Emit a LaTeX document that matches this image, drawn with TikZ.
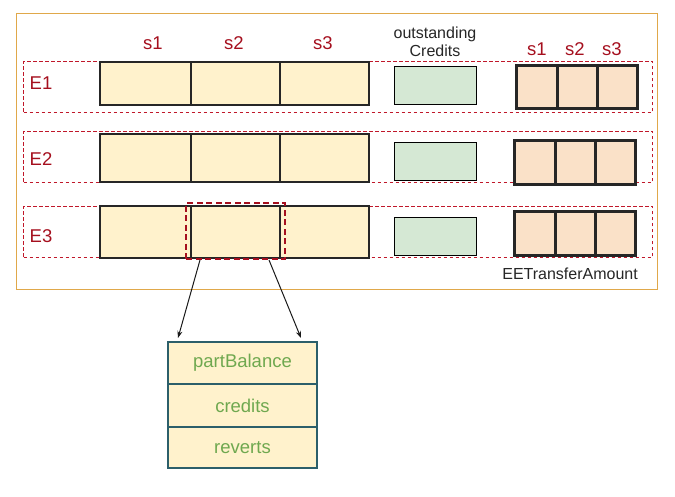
\documentclass[tikz,border=0pt]{standalone}
\usepackage{fontspec}
\setmainfont{Liberation Sans}
\usetikzlibrary{arrows.meta}
\definecolor{dred}{HTML}{A50F1E}
\definecolor{rowred}{HTML}{C0182A}
\definecolor{outerc}{HTML}{E0A84A}
\definecolor{yfill}{HTML}{FFF2CC}
\definecolor{gfill}{HTML}{D5E8D4}
\definecolor{pfill}{HTML}{FAE1C8}
\definecolor{teal}{HTML}{2C5F6A}
\definecolor{gtext}{HTML}{6FA84F}
\begin{document}
\begin{tikzpicture}[x=1pt,y=-1pt,
  ybox/.style={draw=black!85,line width=2.2pt,fill=yfill,anchor=north west,inner sep=0pt},
  gbox/.style={draw=black,line width=1.1pt,fill=gfill,anchor=north west,inner sep=0pt},
  pbox/.style={draw=black!85,line width=2.6pt,fill=pfill,anchor=north west,inner sep=0pt},
  rowbox/.style={draw=rowred,line width=1pt,anchor=north west,inner sep=0pt,dash pattern=on 3.5pt off 2.5pt},
  hlbox/.style={draw=dred,line width=2.4pt,dash pattern=on 6pt off 3.5pt,anchor=north west,inner sep=0pt},
  stbox/.style={draw=teal,line width=2pt,fill=yfill,anchor=north west,inner sep=0pt,minimum width=149pt,minimum height=42pt,font=\fontsize{18.5}{20}\selectfont,text=gtext},
  rlab/.style={text=dred,font=\fontsize{18.5}{20}\selectfont,inner sep=0pt},
  blab/.style={text=black!85,font=\fontsize{16}{18}\selectfont,inner sep=0pt,align=center},
  arr/.style={-{Stealth[length=7pt,width=5pt]},line width=1pt,draw=black!90}]
\useasboundingbox (0,0) rectangle (675,497);
\node[draw=outerc,line width=1.2pt,anchor=north west,minimum width=641pt,minimum height=276pt,inner sep=0pt] (outer) at (16,13) {};
% rows
\node[rowbox,minimum width=629pt,minimum height=51pt] (r1) at (23,61) {};
\node[rowbox,minimum width=629pt,minimum height=51pt] (r2) at (23,131) {};
\node[rowbox,minimum width=629pt,minimum height=51pt] (r3) at (23,206) {};
% row labels
\node[rlab] (e1) at (41,83) {E1};
\node[rlab] (e2) at (41,159) {E2};
\node[rlab] (e3) at (41,236) {E3};
% column labels
\node[rlab] (c1) at (153,43) {s1};
\node[rlab] (c2) at (234,43) {s2};
\node[rlab] (c3) at (323,43) {s3};
\node[rlab] (d1) at (537,49) {s1};
\node[rlab] (d2) at (575,49) {s2};
\node[rlab] (d3) at (612,49) {s3};
\node[blab] (oc) at (435,42) {outstanding\\[0pt]Credits};
% yellow boxes
\foreach \r/\y/\h in {1/61/43,2/133/48,3/205/52}{
  \node[ybox,minimum width=91pt,minimum height=\h pt] (y\r a) at (99,\y) {};
  \node[ybox,minimum width=89pt,minimum height=\h pt] (y\r b) at (190,\y) {};
  \node[ybox,minimum width=89pt,minimum height=\h pt] (y\r c) at (279,\y) {};
}
% green boxes
\node[gbox,minimum width=82pt,minimum height=38pt] (g1) at (394,66) {};
\node[gbox,minimum width=82pt,minimum height=38pt] (g2) at (394,142) {};
\node[gbox,minimum width=82pt,minimum height=38pt] (g3) at (394,217) {};
% peach boxes
\foreach \r/\x/\y/\h in {1/515/64/43,2/513/139/44,3/513/210/44}{
  \node[pbox,minimum width=41pt,minimum height=\h pt] (p\r a) at (\x,\y) {};
  \node[pbox,minimum width=40pt,minimum height=\h pt] (p\r b) at (\x+41,\y) {};
  \node[pbox,minimum width=40pt,minimum height=\h pt] (p\r c) at (\x+81,\y) {};
}
\node[blab,anchor=east] (ee) at (638,274) {EETransferAmount};
% highlight
\node[hlbox,minimum width=99pt,minimum height=56pt] (hl) at (185,202) {};
% stack
\node[stbox] (pb) at (167,341) {partBalance};
\node[stbox,minimum height=43pt] (cr) at (167,383) {credits};
\node[stbox,minimum height=41pt] (rv) at (167,426) {reverts};
% arrows
\coordinate (s1) at (200,260);
\coordinate (s2) at (269,260);
\coordinate (t1) at (178,338);
\coordinate (t2) at (301,338);
\draw[arr] (s1) -- (t1);
\draw[arr] (s2) -- (t2);
\end{tikzpicture}
\end{document}
